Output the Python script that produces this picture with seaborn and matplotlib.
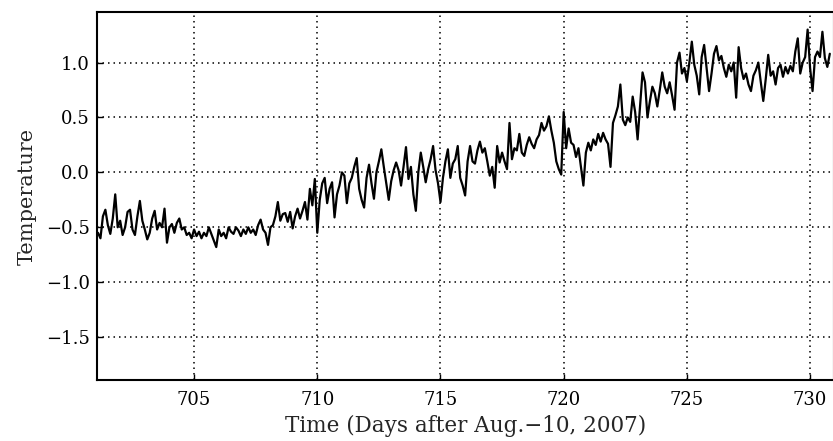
import numpy as np
import pandas as pd
import matplotlib
matplotlib.use("Agg")
import matplotlib.pyplot as plt
import seaborn as sns

# Sampling grid (days after Aug-10, 2007), 0.1-day steps
t_start, t_step = 701.1, 0.1

# Temperature values, segment by segment
temp_701_706 = [-0.55, -0.60, -0.40, -0.34, -0.48, -0.56, -0.42, -0.20, -0.50, -0.44,
                -0.57, -0.50, -0.36, -0.34, -0.52, -0.57, -0.40, -0.26, -0.44, -0.52,
                -0.61, -0.55, -0.42, -0.35, -0.52, -0.46, -0.50, -0.33, -0.64, -0.50,
                -0.47, -0.55, -0.46, -0.42, -0.52, -0.50, -0.57, -0.55, -0.60, -0.52,
                -0.58, -0.54, -0.60, -0.55, -0.58, -0.50, -0.56, -0.62, -0.68, -0.52]
temp_706_711 = [-0.58, -0.55, -0.60, -0.50, -0.54, -0.56, -0.50, -0.53, -0.58, -0.52,
                -0.56, -0.50, -0.55, -0.52, -0.57, -0.48, -0.43, -0.52, -0.55, -0.66,
                -0.50, -0.48, -0.40, -0.27, -0.44, -0.38, -0.37, -0.45, -0.36, -0.51,
                -0.40, -0.33, -0.42, -0.35, -0.27, -0.43, -0.15, -0.30, -0.06, -0.55,
                -0.25, -0.10, -0.05, -0.28, -0.15, -0.09, -0.41, -0.20, -0.12, 0.00]
temp_711_716 = [-0.03, -0.28, -0.10, -0.05, 0.05, 0.13, -0.15, -0.25, -0.32, -0.05,
                0.07, -0.10, -0.24, 0.00, 0.10, 0.21, 0.05, -0.10, -0.25, -0.08,
                0.02, 0.09, 0.02, -0.12, 0.05, 0.23, -0.06, 0.05, -0.20, -0.35,
                0.00, 0.18, 0.05, -0.09, 0.03, 0.12, 0.24, 0.02, -0.10, -0.27,
                -0.05, 0.10, 0.21, -0.05, 0.08, 0.12, 0.24, -0.05, -0.12, -0.21]
temp_716_721 = [0.10, 0.24, 0.10, 0.08, 0.20, 0.28, 0.18, 0.22, 0.10, -0.03,
                0.05, -0.14, 0.24, 0.09, 0.18, 0.10, 0.03, 0.45, 0.12, 0.22,
                0.20, 0.35, 0.18, 0.15, 0.25, 0.32, 0.26, 0.22, 0.30, 0.34,
                0.45, 0.38, 0.42, 0.51, 0.38, 0.27, 0.10, 0.03, -0.02, 0.55,
                0.22, 0.40, 0.27, 0.25, 0.14, 0.22, 0.05, -0.12, 0.18, 0.27]
temp_721_726 = [0.20, 0.30, 0.25, 0.35, 0.28, 0.36, 0.30, 0.26, 0.05, 0.45,
                0.52, 0.60, 0.80, 0.48, 0.43, 0.50, 0.46, 0.69, 0.55, 0.30,
                0.60, 0.91, 0.82, 0.50, 0.65, 0.78, 0.72, 0.60, 0.75, 0.91,
                0.78, 0.72, 0.82, 0.70, 0.57, 1.00, 1.09, 0.90, 0.95, 0.83,
                1.00, 1.19, 0.98, 0.88, 0.71, 1.05, 1.16, 0.95, 0.74, 0.90]
temp_726_731 = [1.08, 1.15, 1.02, 1.06, 0.95, 0.87, 0.98, 0.92, 1.00, 0.68,
                1.14, 0.95, 0.85, 0.90, 0.80, 0.74, 0.88, 0.93, 1.00, 0.82,
                0.65, 0.85, 1.07, 0.88, 0.92, 0.80, 0.95, 0.98, 0.87, 0.96,
                0.90, 0.97, 0.92, 1.10, 1.22, 0.90, 1.00, 1.05, 1.30, 0.95,
                0.74, 1.05, 1.10, 1.05, 1.28, 1.04, 0.96, 1.08]

x_ticks = [705, 710, 715, 720, 725, 730]
y_ticks = [-1.5, -1.0, -0.5, 0.0, 0.5, 1.0]
x_label = "Time (Days after Aug.\u221210, 2007)"
y_label = "Temperature"

temperature = (temp_701_706 + temp_706_711 + temp_711_716 +
               temp_716_721 + temp_721_726 + temp_726_731)
time = np.round(t_start + t_step * np.arange(len(temperature)), 1)
df = pd.DataFrame({"time": time, "temperature": temperature})

sns.set_theme(style="ticks")
plt.rcParams["font.family"] = ["DejaVu Serif"]
plt.rcParams["axes.unicode_minus"] = True

fig = plt.figure(figsize=(8.33, 4.41), dpi=100)
ax = fig.add_axes([97 / 833, 61 / 441, 736.5 / 833, 368 / 441])

sns.lineplot(data=df, x="time", y="temperature", ax=ax, color="black",
             linewidth=1.6, estimator=None, sort=False)

ax.set_xlim(701.06, 730.95)
ax.set_ylim(-1.89, 1.46)
ax.set_xticks(x_ticks)
ax.set_yticks(y_ticks)
ax.set_yticklabels([f"{v:.1f}".replace("-", "\u2212") for v in y_ticks])
ax.grid(True, color="black", linestyle=(0, (1, 2.6)), linewidth=1.1)
for s in ax.spines.values():
    s.set_color("black")
    s.set_linewidth(1.5)
ax.tick_params(axis="both", direction="in", length=4, width=1.0,
               colors="black", labelsize=13)
ax.tick_params(axis="x", pad=8)
ax.tick_params(axis="y", pad=5)
ax.set_xlabel(x_label, fontsize=15.5, labelpad=4)
ax.set_ylabel(y_label, fontsize=15, labelpad=7)

fig.savefig("out.png", dpi=100)
